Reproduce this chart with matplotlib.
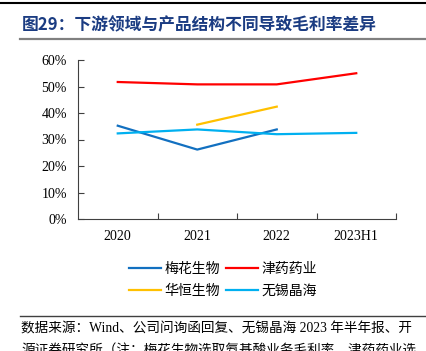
import numpy as np
import matplotlib
matplotlib.use("Agg")
import matplotlib.pyplot as plt
from matplotlib.lines import Line2D

plt.rcParams["font.family"] = ["Liberation Serif", "Noto Sans CJK SC", "DejaVu Sans"]

# data (gross margin, %)
years = ["2020", "2021", "2022", "2023H1"]
meihua = [35.2, 26.2, 33.8, np.nan]
jinyao = [51.7, 50.8, 50.8, 55.0]
huaheng = [np.nan, 35.6, 42.4, np.nan]
wuxi = [32.3, 33.8, 32.0, 32.5]

names = ["梅花生物", "津药药业", "华恒生物", "无锡晶海"]
colors = ["#1270c0", "#ff0000", "#ffc000", "#00b0f0"]
series = [meihua, jinyao, huaheng, wuxi]

fig = plt.figure(figsize=(4.27, 3.51), dpi=100)

# header rules and title
fig.add_artist(Line2D([0, 1], [1 - 2.5 / 351, 1 - 2.5 / 351], color="black", lw=1.5))
fig.text(22 / 427, 1 - 25 / 351, "图29：下游领域与产品结构不同导致毛利率差异",
         color="#1b3c82", fontsize=12.1, fontweight="bold", va="center", ha="left",
         family=["Noto Sans CJK SC", "DejaVu Sans"])
fig.add_artist(Line2D([20 / 427, 1], [1 - 39 / 351, 1 - 39 / 351], color="#808080", lw=1.6))

ax = fig.add_axes([78 / 427, 1 - 219 / 351, 318 / 427, 159 / 351])
x = np.arange(len(years))
lines = []
for name, vals, c in zip(names, series, colors):
    ln, = ax.plot(x, np.array(vals) / 100, color=c, lw=1.6, label=name)
    lines.append(ln)

ax.set_xlim(-0.5, 3.5)
ax.set_ylim(0, 0.6)
ax.set_yticks(np.arange(0, 0.61, 0.1))
ax.set_yticklabels([f"{int(round(v * 100))}%" for v in np.arange(0, 0.61, 0.1)])
ax.set_xticks(x)
ax.set_xticklabels(years)
ax.set_xticks([0.5, 1.5, 2.5, 3.5], minor=True)
ax.tick_params(axis="x", which="major", length=0, pad=8, labelsize=10)
ax.tick_params(axis="x", which="minor", direction="in", length=4, width=0.8, color="#404040")
ax.tick_params(axis="y", direction="in", length=4, width=0.8, color="#404040", pad=8, labelsize=10)
for s in ["top", "right"]:
    ax.spines[s].set_visible(False)
for s in ["left", "bottom"]:
    ax.spines[s].set_color("#404040")
    ax.spines[s].set_linewidth(0.8)

order = [0, 2, 1, 3]
fig.legend([lines[i] for i in order], [names[i] for i in order], ncol=2,
           loc="center", bbox_to_anchor=(223 / 427, 1 - 280 / 351), frameon=False,
           handlelength=2.3, handletextpad=0.3, columnspacing=0.4, labelspacing=0.6,
           prop={"family": ["Noto Sans CJK SC"], "size": 10})

# source rule and note
fig.add_artist(Line2D([20 / 427, 1], [1 - 316 / 351, 1 - 316 / 351], color="#404040", lw=1.0))
fig.text(21 / 427, 1 - 329 / 351, "数据来源：Wind、公司问询函回复、无锡晶海 2023 年半年报、开",
         fontsize=9.8, va="center", ha="left",
         family=["Liberation Serif", "Noto Sans CJK SC"])
fig.text(21 / 427, 1 - 351 / 351, "源证券研究所（注：梅花生物选取氨基酸业务毛利率，津药药业选",
         fontsize=9.8, va="center", ha="left",
         family=["Liberation Serif", "Noto Sans CJK SC"])

fig.savefig("out.png", dpi=100)
